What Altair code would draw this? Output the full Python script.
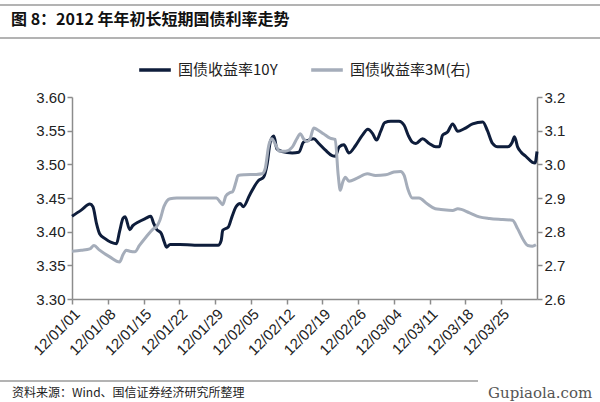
import altair as alt
import pandas as pd

TITLE = "图 8：2012 年年初长短期国债利率走势"
SOURCE = "资料来源：Wind、国信证券经济研究所整理"
WATERMARK = "Gupiaola.com"
S10 = "国债收益率10Y"
S3M = "国债收益率3M(右)"
C10 = "#0e1d3b"
C3M = "#a5adba"

# day offsets from 2012-01-01 and yields
DAYS_10Y = [0, 1.8, 3.5, 4.1, 4.8, 5.4, 6.4, 7.7, 8.7, 9.3, 10.0, 10.4, 11.3, 11.9, 12.9,
            14.5, 15.4, 16.0, 16.5, 17.5, 18.0, 18.5, 19.2, 21.1, 24.0, 28.6, 29.2, 29.5,
            30.6, 31.3, 32.1, 32.9, 33.5, 34.8, 36.5, 37.5, 38.2, 38.8, 39.5, 40.1, 41.1,
            43.1, 44.4, 45.3, 46.3, 47.3, 48.3, 49.6, 50.9, 51.5, 52.3, 53.2, 54.2, 55.5,
            56.8, 57.9, 58.8, 59.6, 60.4, 61.2, 62.4, 64.0, 65.0, 65.8, 66.6, 67.3, 68.6,
            69.9, 71.2, 71.9, 72.5, 73.5, 74.5, 75.5, 76.8, 78.4, 80.4, 81.3, 82.3, 83.3,
            85.3, 86.1, 86.6, 87.2, 87.9, 88.8, 90.1, 90.6, 91.0]
Y10 = [3.423, 3.432, 3.441, 3.437, 3.412, 3.397, 3.390, 3.384, 3.382, 3.400, 3.420, 3.422,
       3.403, 3.409, 3.414, 3.420, 3.423, 3.412, 3.404, 3.397, 3.386, 3.377, 3.381, 3.381,
       3.380, 3.380, 3.387, 3.402, 3.407, 3.422, 3.437, 3.442, 3.437, 3.455, 3.476, 3.481,
       3.501, 3.533, 3.542, 3.523, 3.519, 3.517, 3.518, 3.533, 3.536, 3.538, 3.531, 3.521,
       3.513, 3.512, 3.526, 3.529, 3.517, 3.528, 3.543, 3.552, 3.546, 3.536, 3.549, 3.562,
       3.564, 3.564, 3.558, 3.543, 3.533, 3.531, 3.538, 3.531, 3.526, 3.526, 3.543, 3.548,
       3.560, 3.549, 3.553, 3.560, 3.563, 3.550, 3.531, 3.526, 3.526, 3.532, 3.541, 3.526,
       3.518, 3.512, 3.503, 3.502, 3.519]

DAYS_3M = [0, 1.8, 3.5, 4.3, 5.4, 7.4, 9.3, 10.0, 10.6, 11.3, 12.3, 13.2, 14.5, 15.8, 16.5,
           17.2, 18.0, 19.2, 20.5, 28.3, 28.9, 29.5, 30.1, 30.9, 31.4, 32.1, 32.5, 33.8,
           36.0, 37.2, 37.8, 38.5, 39.1, 39.9, 40.6, 41.8, 43.1, 44.0, 44.7, 45.3, 46.0,
           46.6, 47.3, 47.9, 49.2, 50.5, 51.5, 52.1, 52.5, 53.0, 53.5, 54.2, 55.8, 57.8,
           59.4, 61.4, 63.0, 64.3, 65.0, 65.7, 66.6, 67.9, 69.5, 71.1, 72.2, 74.5, 75.5,
           77.8, 79.7, 81.7, 84.3, 86.2, 87.2, 88.2, 89.2, 90.1, 90.8]
Y3M = [2.742, 2.745, 2.749, 2.759, 2.745, 2.725, 2.710, 2.732, 2.745, 2.742, 2.740, 2.759,
       2.784, 2.807, 2.814, 2.834, 2.875, 2.898, 2.900, 2.900, 2.890, 2.880, 2.906, 2.916,
       2.918, 2.948, 2.967, 2.969, 2.970, 2.972, 2.987, 3.056, 3.076, 3.056, 3.039, 3.039,
       3.051, 3.076, 3.091, 3.076, 3.068, 3.076, 3.108, 3.104, 3.091, 3.078, 3.074, 2.967,
       2.923, 2.948, 2.962, 2.950, 2.959, 2.972, 2.967, 2.969, 2.977, 2.979, 2.967, 2.928,
       2.900, 2.900, 2.883, 2.868, 2.866, 2.863, 2.868, 2.856, 2.844, 2.839, 2.836, 2.834,
       2.809, 2.779, 2.759, 2.757, 2.761]

TICK_DATES = ["2012-01-01", "2012-01-08", "2012-01-15", "2012-01-22", "2012-01-29",
              "2012-02-05", "2012-02-12", "2012-02-19", "2012-02-26", "2012-03-04",
              "2012-03-11", "2012-03-18", "2012-03-25"]
LEFT_TICKS = [3.30, 3.35, 3.40, 3.45, 3.50, 3.55, 3.60]
RIGHT_TICKS = [2.6, 2.7, 2.8, 2.9, 3.0, 3.1, 3.2]

start = pd.Timestamp("2012-01-01")
df10 = pd.DataFrame({"date": start + pd.to_timedelta(DAYS_10Y, unit="D"), "value": Y10, "series": S10})
df3m = pd.DataFrame({"date": start + pd.to_timedelta(DAYS_3M, unit="D"), "value": Y3M, "series": S3M})
df = pd.concat([df10, df3m], ignore_index=True)
df["date"] = df["date"].dt.strftime("%Y-%m-%dT%H:%M:%S")


def dt(s):
    y, m, d = s.split("-")
    return alt.DateTime(year=int(y), month=int(m), date=int(d))


FONT = "Liberation Sans"
CJK = "Noto Sans CJK SC"
AX = dict(domainColor="#8c8c8c", domainWidth=1.5, tickColor="#8c8c8c", tickWidth=1.5,
          tickSize=5, labelFont=FONT, labelFontSize=15, labelColor="#222222", grid=False,
          title=None)

xenc = alt.X("date:T",
             scale=alt.Scale(domain=[dt("2012-01-01"), dt("2012-04-01")]),
             axis=alt.Axis(values=[dt(s) for s in TICK_DATES], format="%y/%m/%d",
                           labelAngle=-45, labelAlign="right", labelBaseline="top",
                           labelPadding=2, labelOverlap=False, **AX))

color = alt.Color("series:N",
                  scale=alt.Scale(domain=[S10, S3M], range=[C10, C3M]),
                  legend=alt.Legend(orient="none", legendX=65, legendY=-45,
                                    direction="horizontal", title=None,
                                    symbolType="stroke", symbolStrokeWidth=3.5,
                                    symbolSize=1000, labelFont=CJK, labelFontSize=15,
                                    labelColor="#222222", labelOffset=5,
                                    columnPadding=26))

base = alt.Chart(df)
line10 = base.transform_filter(alt.datum.series == S10).mark_line(
    interpolate="monotone", strokeWidth=3).encode(
    x=xenc,
    y=alt.Y("value:Q", scale=alt.Scale(domain=[3.30, 3.60], nice=False, zero=False),
            axis=alt.Axis(orient="left", values=LEFT_TICKS, format=".2f", **AX)),
    color=color)

line3m = base.transform_filter(alt.datum.series == S3M).mark_line(
    interpolate="monotone", strokeWidth=3).encode(
    x=xenc,
    y=alt.Y("value:Q", scale=alt.Scale(domain=[2.6, 3.2], nice=False, zero=False),
            axis=alt.Axis(orient="right", values=RIGHT_TICKS, format=".1f", **AX)),
    color=color)

one = pd.DataFrame({"t": [TITLE], "s": [SOURCE], "w": [WATERMARK]})
title = alt.Chart(one).mark_text(align="left", baseline="middle", font=CJK, fontSize=16,
                                 fontWeight="bold", color="#111111").encode(
    text="t:N", x=alt.value(-61), y=alt.value(-77))
source = alt.Chart(one).mark_text(align="left", baseline="middle", font=CJK, fontSize=12,
                                  color="#222222").encode(
    text="s:N", x=alt.value(-60), y=alt.value(296))
wm = alt.Chart(one).mark_text(align="left", baseline="middle", font="DejaVu Serif", fontSize=15,
                              color="#555555").encode(
    text="w:N", x=alt.value(416), y=alt.value(296))

rules = alt.Chart(pd.DataFrame({"y": [-92, -59, 284]})).mark_rule(
    color="#9a9a9a", strokeWidth=1.5).encode(
    x=alt.value(-72), x2=alt.value(528), y=alt.value(0))
r1 = alt.Chart(one).mark_rule(color="#9a9a9a", strokeWidth=1.5).encode(
    x=alt.value(-72), x2=alt.value(528), y=alt.value(-92))
r2 = alt.Chart(one).mark_rule(color="#9a9a9a", strokeWidth=1.5).encode(
    x=alt.value(-72), x2=alt.value(528), y=alt.value(-59))
r3 = alt.Chart(one).mark_rule(color="#9a9a9a", strokeWidth=1.5).encode(
    x=alt.value(-72), x2=alt.value(406), y=alt.value(284))

chart = alt.layer(line10, line3m, title, source, wm, r1, r2, r3).resolve_scale(
    y="independent").properties(
    width=465, height=202,
    autosize=alt.AutoSizeParams(type="none"),
    padding={"left": 72, "top": 97, "right": 63, "bottom": 103},
    background="white").configure_view(stroke=None)

chart.save("out.html", embed_options={"renderer": "svg", "actions": False})
